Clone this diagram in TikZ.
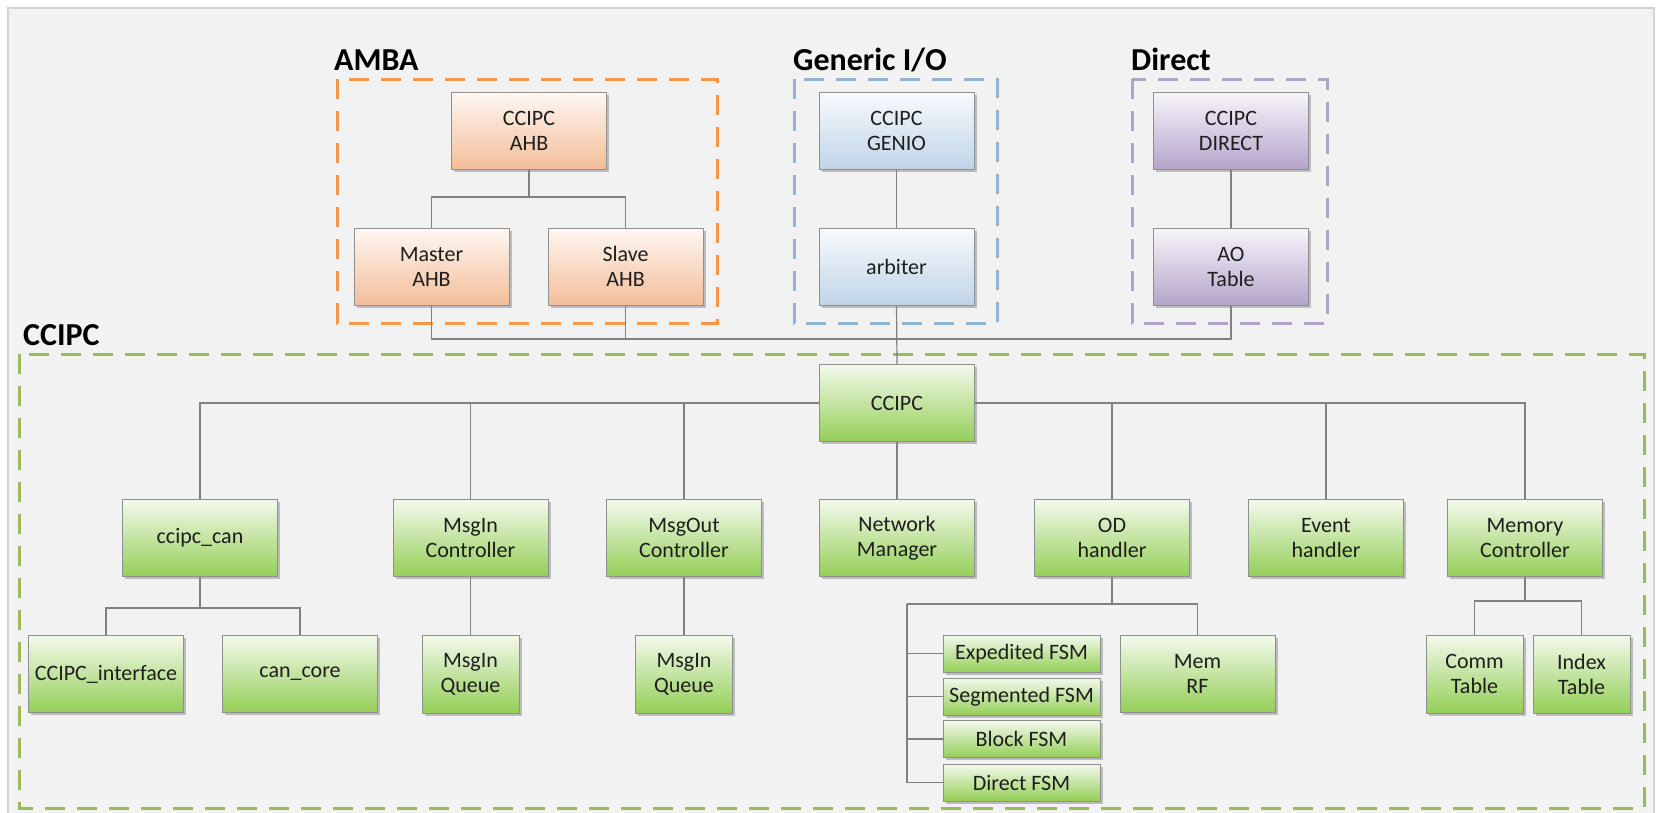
\documentclass[tikz,border=0pt]{standalone}
\usepackage{fontspec}
\setmainfont{Carlito}
\usetikzlibrary{shadows}
\definecolor{panelfill}{HTML}{F2F2F2}
\definecolor{panelline}{HTML}{D3D3D3}
\definecolor{conngray}{HTML}{808080}
\definecolor{boxline}{HTML}{8F8F8F}
\definecolor{txt}{HTML}{1E1E1E}
\definecolor{orgdash}{HTML}{F79646}
\definecolor{bludash}{HTML}{95B3D7}
\definecolor{purdash}{HTML}{B3A2C7}
\definecolor{grndash}{HTML}{9BBB59}
\definecolor{orgtop}{HTML}{FEF7F2}
\definecolor{orgbot}{HTML}{F3BE99}
\definecolor{blutop}{HTML}{F8FBFD}
\definecolor{blubot}{HTML}{BFD4E8}
\definecolor{purtop}{HTML}{F7F5FA}
\definecolor{purbot}{HTML}{B5A5CB}
\definecolor{grntop}{HTML}{F3F9EC}
\definecolor{grnbot}{HTML}{94CF57}
\newfontfamily\titlefont{Carlito}
\tikzset{
  blk/.style={draw=boxline, line width=1pt, minimum width=155pt, minimum height=77pt,
    inner sep=0pt, align=center, text=txt,
    font=\fontsize{22}{25}\selectfont,
    drop shadow={shadow xshift=2.5pt, shadow yshift=-2.5pt, fill=black, opacity=0.22}},
  orgbox/.style={blk, top color=orgtop, bottom color=orgbot},
  blubox/.style={blk, top color=blutop, bottom color=blubot},
  purbox/.style={blk, top color=purtop, bottom color=purbot},
  grnbox/.style={blk, top color=grntop, bottom color=grnbot},
  narrowbox/.style={grnbox, minimum width=97pt, minimum height=78pt},
  fsmbox/.style={grnbox, minimum width=157pt, minimum height=37pt},
  conn/.style={draw=conngray, line width=1.2pt},
  grpdash/.style={line width=3pt, dash pattern=on 20pt off 12pt},
  grptitle/.style={anchor=base west, inner sep=0pt, text=black,
    font=\titlefont\bfseries\fontsize{32}{36}\selectfont}
}
\begin{document}
\begin{tikzpicture}[x=1pt,y=-1pt]
\useasboundingbox (0,0) rectangle (1656,812);
\clip (0,0) rectangle (1656,812);
\fill[white] (0,0) rectangle (1656,812);
\draw[panelline, fill=panelfill, line width=2pt] (8,8) rectangle (1654,840);

% group frames
\draw[orgdash, grpdash] (337,79) rectangle (717,323);
\draw[bludash, grpdash] (794,79) rectangle (997,323);
\draw[purdash, grpdash] (1132,79) rectangle (1327,323);
\draw[grndash, grpdash] (19,354) rectangle (1644,808);

\node[grptitle] (tamba) at (334,70) {AMBA};
\node[grptitle] (tgen) at (793,70) {Generic I/O};
\node[grptitle] (tdir) at (1131,70) {Direct};
\node[grptitle] (tcc) at (23,345) {CCIPC};

% top nodes
\node[orgbox] (ahb) at (529,130.5) {CCIPC\\AHB};
\node[orgbox] (master) at (431.5,266.5) {Master\\AHB};
\node[orgbox] (slave) at (625.5,266.5) {Slave\\AHB};
\node[blubox] (genio) at (896.5,130.5) {CCIPC\\GENIO};
\node[blubox] (arbiter) at (896.5,266.5) {arbiter};
\node[purbox] (dir) at (1231,130.5) {CCIPC\\DIRECT};
\node[purbox] (ao) at (1231,266.5) {AO\\Table};

% CCIPC nodes
\node[grnbox] (main) at (897,403) {CCIPC};
\node[grnbox] (can) at (200,538) {ccipc\_can};
\node[grnbox] (msgin) at (470.5,538) {MsgIn\\Controller};
\node[grnbox] (msgout) at (684,538) {MsgOut\\Controller};
\node[grnbox] (net) at (897,538) {Network\\Manager};
\node[grnbox] (od) at (1112,538) {OD\\handler};
\node[grnbox] (ev) at (1326,538) {Event\\handler};
\node[grnbox] (mc) at (1525,538) {Memory\\Controller};

\node[grnbox] (iface) at (106,674) {CCIPC\_interface};
\node[grnbox] (core) at (300,674) {can\_core};
\node[narrowbox] (q1) at (470.5,674) {MsgIn\\Queue};
\node[narrowbox] (q2) at (684,674) {MsgIn\\Queue};
\node[fsmbox] (f1) at (1021.5,653.5) {Expedited FSM};
\node[fsmbox] (f2) at (1021.5,696.5) {Segmented FSM};
\node[fsmbox] (f3) at (1021.5,739) {Block FSM};
\node[fsmbox] (f4) at (1021.5,782.5) {Direct FSM};
\node[grnbox] (memrf) at (1197.5,674) {Mem\\RF};
\node[narrowbox] (comm) at (1474.5,674) {Comm\\Table};
\node[narrowbox] (idx) at (1581.5,674) {Index\\Table};

% split points
\coordinate (ahbsp) at (529,197);
\coordinate (topbus) at (0,339);
\coordinate (cansp) at (200,608);
\coordinate (odsp) at (1112,604);
\coordinate (rail) at (907,604);
\coordinate (mcsp) at (1525,601);

% connectors
\draw[conn] (ahb.south) -- (ahbsp);
\draw[conn] (master.north) |- (ahbsp) -| (slave.north);
\draw[conn] (genio.south) -- (arbiter.north);
\draw[conn] (dir.south) -- (ao.north);
\draw[conn] (master.south) -- (master.south |- topbus) -- (ao.south |- topbus) -- (ao.south);
\draw[conn] (slave.south) -- (slave.south |- topbus);
\draw[conn] (arbiter.south) -- (main.north);

\draw[conn] (can.north) |- (main.west);
\draw[conn] (main.east) -| (mc.north);
\draw[conn] (msgin.north) -- (msgin.north |- main.west);
\draw[conn] (msgout.north) -- (msgout.north |- main.west);
\draw[conn] (od.north) -- (od.north |- main.east);
\draw[conn] (ev.north) -- (ev.north |- main.east);
\draw[conn] (main.south) -- (net.north);

\draw[conn] (can.south) -- (cansp);
\draw[conn] (iface.north) |- (cansp) -| (core.north);
\draw[conn] (msgin.south) -- (q1.north);
\draw[conn] (msgout.south) -- (q2.north);

\draw[conn] (od.south) -- (odsp);
\draw[conn] (rail) -- (odsp) -| (memrf.north);
\draw[conn] (rail) |- (f4.west);
\draw[conn] (f1.west) -- (f1.west -| rail);
\draw[conn] (f2.west) -- (f2.west -| rail);
\draw[conn] (f3.west) -- (f3.west -| rail);

\draw[conn] (mc.south) -- (mcsp);
\draw[conn] (comm.north) |- (mcsp) -| (idx.north);
\end{tikzpicture}
\end{document}
